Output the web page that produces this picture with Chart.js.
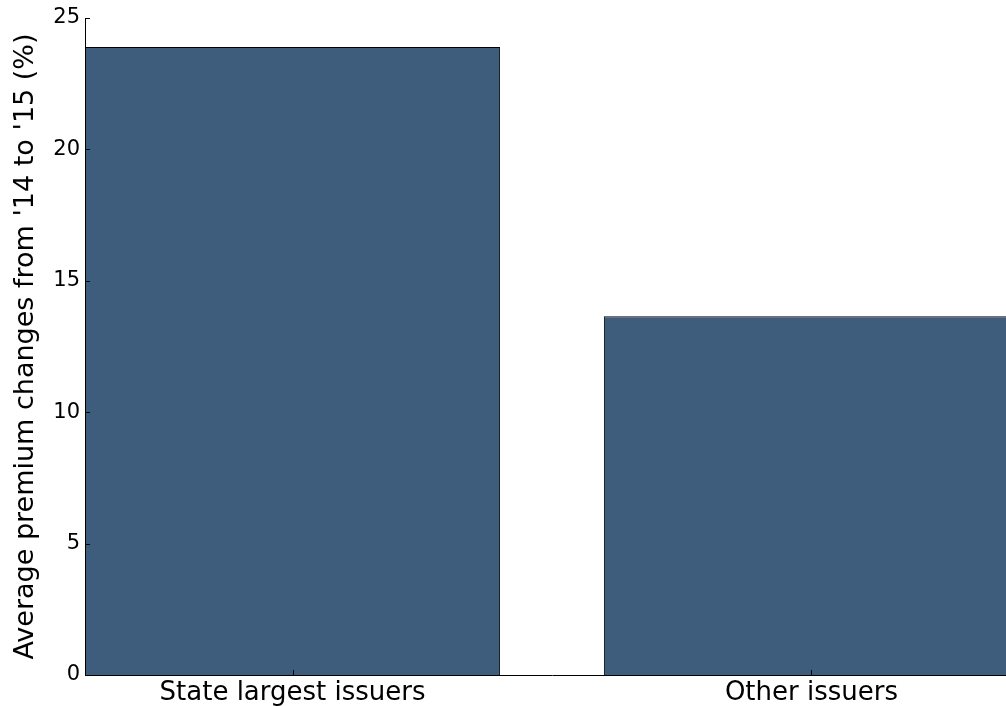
<!DOCTYPE html>
<html>
<head>
<meta charset="utf-8">
<script src="https://cdn.jsdelivr.net/npm/chart.js@4.4.1/dist/chart.umd.min.js"></script>
<style>
  html, body { margin: 0; padding: 0; background: #fff; overflow: hidden; }
  #wrap { position: relative; width: 1020px; height: 706px; }
</style>
</head>
<body>
<div id="wrap"><canvas id="premiumChart"></canvas></div>
<script>
const categories = ["State largest issuers", "Other issuers"];
const premiumChange = [23.9, 13.65];
const yTicks = [0, 5, 10, 15, 20, 25];

const FONT = "'DejaVu Sans', sans-serif";

// short tick marks drawn inside the axes, matplotlib style
const innerTicks = {
    id: "innerTicks",
    afterDatasetsDraw(chart) {
        const ctx = chart.ctx;
        const x = chart.scales.x;
        const y = chart.scales.y;
        ctx.save();
        ctx.strokeStyle = "#000";
        ctx.lineWidth = 1;
        ctx.beginPath();
        y.ticks.forEach((t, i) => {
            const py = Math.round(y.getPixelForTick(i)) + 0.5;
            ctx.moveTo(x.left, py);
            ctx.lineTo(x.left + 5, py);
        });
        x.ticks.forEach((t, i) => {
            const px = Math.round(x.getPixelForTick(i)) + 0.5;
            ctx.moveTo(px, y.bottom);
            ctx.lineTo(px, y.bottom - 5);
        });
        ctx.stroke();
        ctx.restore();
    }
};

new Chart(document.getElementById("premiumChart"), {
    type: "bar",
    data: {
        datasets: [{
            data: categories.map((c, i) => ({ x: i, y: premiumChange[i] })),
            backgroundColor: "#3e5c7b",
            borderColor: "#000",
            borderWidth: 1,
            categoryPercentage: 1,
            barPercentage: 0.8
        }]
    },
    options: {
        responsive: true,
        maintainAspectRatio: false,
        animation: false,
        layout: { padding: { top: 18, right: 1, left: 0, bottom: 0 } },
        plugins: {
            legend: { display: false },
            tooltip: { enabled: false }
        },
        scales: {
            x: {
                type: "linear",
                min: -0.4,
                max: 1.4,
                offset: false,
                afterBuildTicks: scale => {
                    scale.ticks = categories.map((c, i) => ({ value: i }));
                },
                afterFit: scale => { scale.height = 31; },
                grid: { display: false, offset: false, drawTicks: false },
                border: { display: true, color: "#000", width: 1 },
                ticks: {
                    color: "#000",
                    padding: 3,
                    maxRotation: 0,
                    autoSkip: false,
                    font: { family: FONT, size: 26 },
                    callback: value => categories[value]
                }
            },
            y: {
                min: 0,
                max: 25,
                afterBuildTicks: scale => {
                    scale.ticks = yTicks.map(v => ({ value: v }));
                },
                afterFit: scale => { scale.width = 85; },
                grid: { display: false, drawTicks: false },
                border: { display: true, color: "#000", width: 1 },
                ticks: {
                    color: "#000",
                    padding: 5,
                    font: { family: FONT, size: 21 }
                },
                title: {
                    display: true,
                    text: "Average premium changes from '14 to '15 (%)",
                    color: "#000",
                    font: { family: FONT, size: 27 },
                    padding: { top: 10, bottom: 0 }
                }
            }
        }
    },
    plugins: [innerTicks]
});
</script>
</body>
</html>
